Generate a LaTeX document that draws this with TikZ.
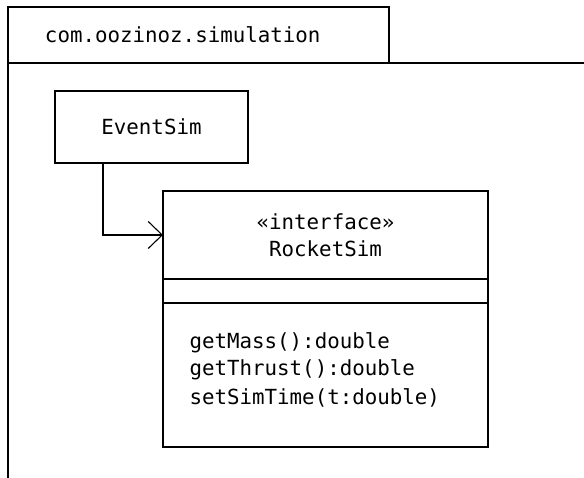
\documentclass[tikz,border=0pt]{standalone}
\usepackage{fontspec}
\setmonofont{DejaVu Sans Mono}
\usetikzlibrary{arrows.meta,positioning}

\tikzset{
  umlbox/.style={draw, inner sep=0pt, outer sep=0pt},
  member/.style={anchor=base west, inner sep=0pt},
}

\begin{document}
\begin{tikzpicture}[x=1pt, y=-1pt, line width=1.1pt,
    font=\ttfamily\fontsize{20.8}{27}\selectfont,
    >={Straight Barb[length=14pt,width=27pt]}]
  \useasboundingbox (0,0) rectangle (584,478);
  % package
  \node[umlbox, anchor=north west, minimum height=56pt, text width=307pt,
        inner xsep=37pt, align=left] (pkg) at (8,7) {com.oozinoz.simulation};
  \coordinate (pkgright) at (584,63);
  \coordinate (pkgbottom) at (8,478);
  \draw (pkg.south east) -- (pkgright);
  \draw (pkg.south west) -- (pkgbottom);
  % classes
  \node[umlbox, minimum width=193pt, minimum height=72pt] (es) at (151.5,127) {EventSim};
  \node[umlbox, minimum width=325pt, minimum height=88pt, align=center,
        anchor=north west] (rsname) at (163,191) {«interface»\\RocketSim};
  \node[umlbox, minimum width=325pt, minimum height=24pt, below=0pt of rsname] (rsattr) {};
  \node[umlbox, minimum width=325pt, minimum height=144pt, below=0pt of rsattr] (rsops) {};
  \node[member] (m1) at (189,349) {getMass():double};
  \node[member] (m2) at (189,376) {getThrust():double};
  \node[member] (m3) at (189,404) {setSimTime(t:double)};
  \draw[->] ([xshift=48pt]es.south west) |- (rsname.west);
\end{tikzpicture}
\end{document}
